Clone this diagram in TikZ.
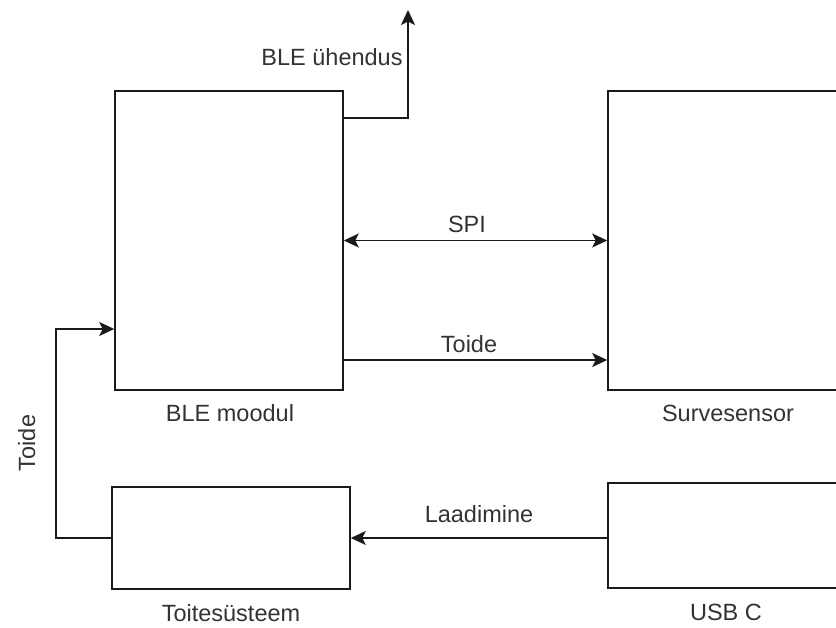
\documentclass[tikz,border=0pt]{standalone}
\usepackage{fontspec}
\setmainfont{Liberation Sans}
\usetikzlibrary{arrows.meta,calc}
\definecolor{ln}{HTML}{1a1a1a}
\definecolor{tx}{HTML}{333333}
\begin{document}
\begin{tikzpicture}[x=1pt,y=-1pt,
  blk/.style={draw=ln,line width=1.6pt,inner sep=0pt,fill=white},
  lbl/.style={font=\fontsize{23.5}{28}\selectfont,text=tx,anchor=base,inner sep=0pt},
  conn/.style={draw=ln,line width=1.6pt},
  arr/.style={conn,-{Stealth[length=15pt,width=14pt,inset=3.5pt]}},
  darr/.style={conn,{Stealth[length=15pt,width=14pt,inset=3.5pt]}-{Stealth[length=15pt,width=14pt,inset=3.5pt]}}]
\useasboundingbox (0,0) rectangle (836,628);
\fill[white] (0,0) rectangle (836,628);
% blocks
\node[blk,minimum width=228pt,minimum height=299pt] (ble) at (229,240.5) {};
\node[blk,minimum width=240pt,minimum height=299pt] (sens) at (728,240.5) {};
\node[blk,minimum width=238pt,minimum height=102pt] (toit) at (231,538) {};
\node[blk,minimum width=240pt,minimum height=105pt] (usb) at (728,535.5) {};
% block labels
\node[lbl] (lble) at (230,421) {BLE moodul};
\node[lbl] (lsens) at (728,421) {Survesensor};
\node[lbl] (ltoit) at (231,621) {Toitesüsteem};
\node[lbl] (lusb) at (726,620) {USB C};
% helper coordinates
\coordinate (bleouty) at (0,118);
\coordinate (bleout) at (408,10);
\coordinate (toidey) at (0,360);
\coordinate (bend) at (56,329);
% connectors
\draw[arr] (ble.east |- bleouty) -| (bleout);
\draw[darr] (ble.east) -- (sens.west);
\draw[arr] (ble.east |- toidey) -- (sens.west |- toidey);
\draw[arr] (usb.west |- toit.east) -- (toit.east);
\draw[arr] (toit.west) -| (bend) -- (ble.west |- bend);
% connector labels
\node[lbl] (lbleu) at (332,66) {BLE ühendus};
\node[lbl] (lspi) at (467,233) {SPI};
\node[lbl] (ltoide) at (469,353) {Toide};
\node[lbl] (llaad) at (479,522) {Laadimine};
\node[lbl,rotate=90] (ltoide2) at (35,443) {Toide};
\end{tikzpicture}
\end{document}
